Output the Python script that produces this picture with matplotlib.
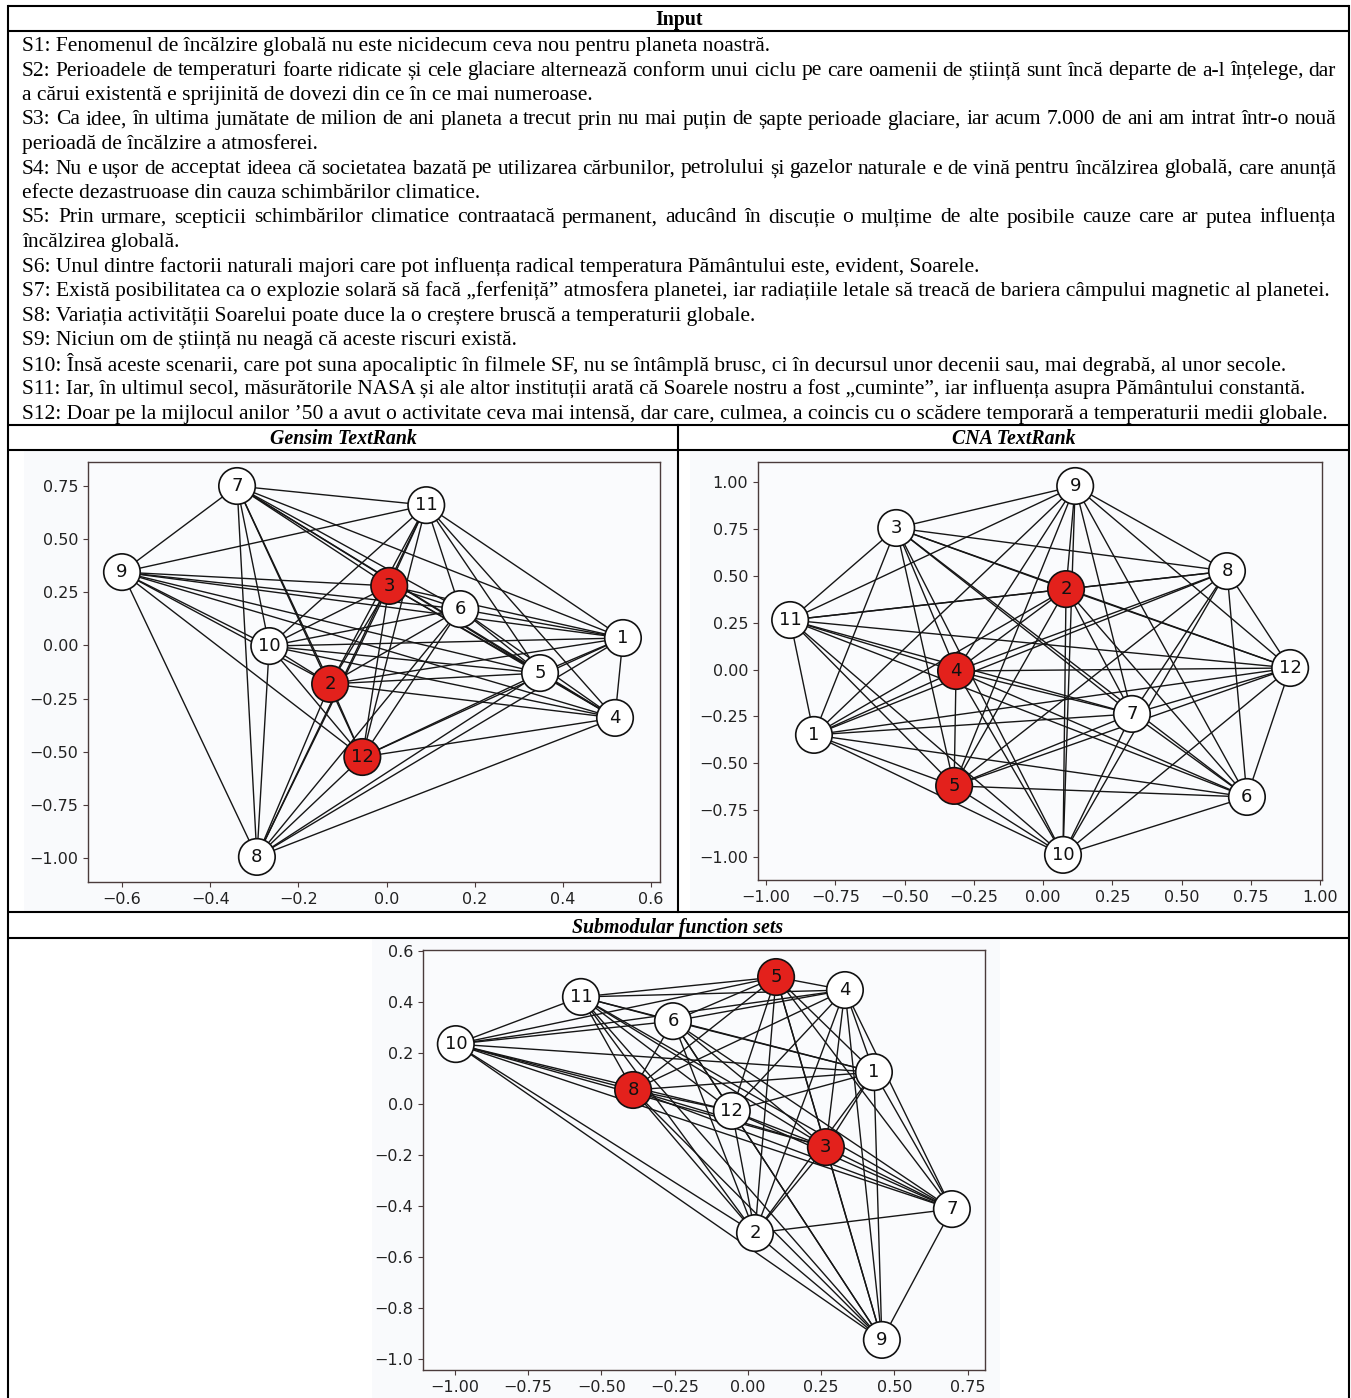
"""
Sentence graphs for the three summarisation methods, laid out as the table
"""

import itertools
import matplotlib.pyplot as plt

W, H = 1351, 1398
serif = "Liberation Serif"

text_lines = [
    "S1: Fenomenul de încălzire globală nu este nicidecum ceva nou pentru planeta noastră.",
    "S2: Perioadele de temperaturi foarte ridicate și cele glaciare alternează conform unui ciclu pe care oamenii de știință sunt încă departe de a-l înțelege, dar",
    "a cărui existentă e sprijinită de dovezi din ce în ce mai numeroase.",
    "S3: Ca idee, în ultima jumătate de milion de ani planeta a trecut prin nu mai puțin de șapte perioade glaciare, iar acum 7.000 de ani am intrat într-o nouă",
    "perioadă de încălzire a atmosferei.",
    "S4: Nu e ușor de acceptat ideea că societatea bazată pe utilizarea cărbunilor, petrolului și gazelor naturale e de vină pentru încălzirea globală, care anunță",
    "efecte dezastruoase din cauza schimbărilor climatice.",
    "S5: Prin urmare, scepticii schimbărilor climatice contraatacă permanent, aducând în discuție o mulțime de alte posibile cauze care ar putea influența",
    "încălzirea globală.",
    "S6: Unul dintre factorii naturali majori care pot influența radical temperatura Pământului este, evident, Soarele.",
    "S7: Există posibilitatea ca o explozie solară să facă „ferfeniță” atmosfera planetei, iar radiațiile letale să treacă de bariera câmpului magnetic al planetei.",
    "S8: Variația activității Soarelui poate duce la o creștere bruscă a temperaturii globale.",
    "S9: Niciun om de știință nu neagă că aceste riscuri există.",
    "S10: Însă aceste scenarii, care pot suna apocaliptic în filmele SF, nu se întâmplă brusc, ci în decursul unor decenii sau, mai degrabă, al unor secole.",
    "S11: Iar, în ultimul secol, măsurătorile NASA și ale altor instituții arată că Soarele nostru a fost „cuminte”, iar influența asupra Pământului constantă.",
    "S12: Doar pe la mijlocul anilor ’50 a avut o activitate ceva mai intensă, dar care, culmea, a coincis cu o scădere temporară a temperaturii medii globale.",
]
justified = [False, True, False, True, False, True, False, True, False,
             False, False, False, False, False, False, False]

nodes = [1, 2, 3, 4, 5, 6, 7, 8, 9, 10, 11, 12]

# node positions, in node order 1..12
gensim_x = [0.536, -0.128, 0.006, 0.518, 0.348, 0.167, -0.339, -0.294, -0.600, -0.266, 0.090, -0.055]
gensim_y = [0.035, -0.181, 0.280, -0.341, -0.130, 0.171, 0.750, -0.995, 0.345, -0.003, 0.660, -0.525]
gensim_top = [2, 3, 12]

cna_x = [-0.827, 0.083, -0.530, -0.314, -0.321, 0.736, 0.321, 0.664, 0.116, 0.072, -0.913, 0.892]
cna_y = [-0.349, 0.429, 0.755, -0.008, -0.621, -0.680, -0.237, 0.525, 0.979, -0.989, 0.264, 0.008]
cna_top = [2, 4, 5]

sub_x = [0.430, 0.024, 0.266, 0.331, 0.096, -0.256, 0.696, -0.392, 0.457, -0.997, -0.570, -0.055]
sub_y = [0.125, -0.506, -0.169, 0.447, 0.498, 0.325, -0.412, 0.055, -0.925, 0.235, 0.420, -0.027]
sub_top = [3, 5, 8]

# every sentence pair is linked in the similarity graph
edges = list(itertools.combinations(nodes, 2))

fig = plt.figure(figsize=(W / 100, H / 100), dpi=100)
bg = fig.add_axes([0, 0, 1, 1])
bg.set_xlim(0, W)
bg.set_ylim(H, 0)
bg.axis("off")
renderer = fig.canvas.get_renderer()

# light background of the pasted plot images
for (x0, x1, y0, y1) in [(24, 677, 451, 911), (690, 1348, 451, 911), (372, 1000, 939, 1398)]:
    bg.fill_between([x0, x1], y0, y1, color="#f9fafc", lw=0, zorder=0)

# table rules
lw_rule = 1.5
for yy in [6, 31, 425, 450, 912, 938]:
    bg.plot([8, 1349], [yy, yy], color="black", lw=lw_rule, solid_capstyle="butt")
bg.plot([8, 8], [6, H], color="black", lw=lw_rule)
bg.plot([1349, 1349], [6, H], color="black", lw=lw_rule)
bg.plot([678, 678], [425, 912], color="black", lw=lw_rule)

# body text size: the S12 line must fit inside the cell
probe = bg.text(0, 0, text_lines[-1], fontsize=15, family=serif)
body_size = 15 * 1310 / probe.get_window_extent(renderer).width
probe.remove()

x_left, x_right = 22, 1336
for i, line in enumerate(text_lines):
    yy = 46.5 + 24.5 * i
    if not justified[i]:
        bg.text(x_left, yy, line, fontsize=body_size, family=serif, va="center")
        continue
    words = line.split(" ")
    arts = [bg.text(0, yy, w_, fontsize=body_size, family=serif, va="center") for w_ in words]
    widths = [a.get_window_extent(renderer).width for a in arts]
    gap = (x_right - x_left - sum(widths)) / (len(words) - 1)
    xx = x_left
    for a, w_ in zip(arts, widths):
        a.set_x(xx)
        xx += w_ + gap

probe = bg.text(0, 0, "Gensim TextRank", fontsize=15, family=serif,
                weight="bold", style="italic")
head_size = 15 * 147 / probe.get_window_extent(renderer).width
probe.remove()

bg.text(679, 20.5, "Input", fontsize=head_size, family=serif, weight="bold",
        ha="center", va="center")
for xx, yy, t in [(343, 439.5, "Gensim TextRank"), (1014, 439.5, "CNA TextRank"),
                  (678, 927.5, "Submodular function sets")]:
    bg.text(xx, yy, t, fontsize=head_size, family=serif, weight="bold",
            style="italic", ha="center", va="center")


def draw_graph(rect, xs, ys, top, xlim, ylim):
    L, R, T, B = rect
    ax = fig.add_axes([L / W, 1 - B / H, (R - L) / W, (B - T) / H])
    ax.set_facecolor("#fafbfd")
    pos = {n: (xs[i], ys[i]) for i, n in enumerate(nodes)}
    for a, b in edges:
        ax.plot([pos[a][0], pos[b][0]], [pos[a][1], pos[b][1]],
                color="#161616", lw=1.0, zorder=1)
    colors = ["#e3211c" if n in top else "white" for n in nodes]
    ax.scatter(xs, ys, s=690, c=colors, edgecolors="#111111", linewidths=1.2, zorder=2)
    for n in nodes:
        ax.text(pos[n][0], pos[n][1], str(n), fontsize=13, ha="center",
                va="center", color="#111111", zorder=3)
    ax.set_xlim(xlim)
    ax.set_ylim(ylim)
    for sp in ax.spines.values():
        sp.set_color("#4a3b3b")
        sp.set_linewidth(1.0)
    ax.tick_params(labelsize=11.5, colors="#4a3b3b", labelcolor="#222222")
    return ax


draw_graph((88, 660, 462, 882), gensim_x, gensim_y, gensim_top,
           (-0.677, 0.62), (-1.113, 0.863))
draw_graph((758, 1322, 462, 880), cna_x, cna_y, cna_top,
           (-1.029, 1.007), (-1.123, 1.107))
draw_graph((423, 985, 950, 1370), sub_x, sub_y, sub_top,
           (-1.109, 0.809), (-1.043, 0.604))

fig.savefig("out.png", dpi=100)
plt.close(fig)
